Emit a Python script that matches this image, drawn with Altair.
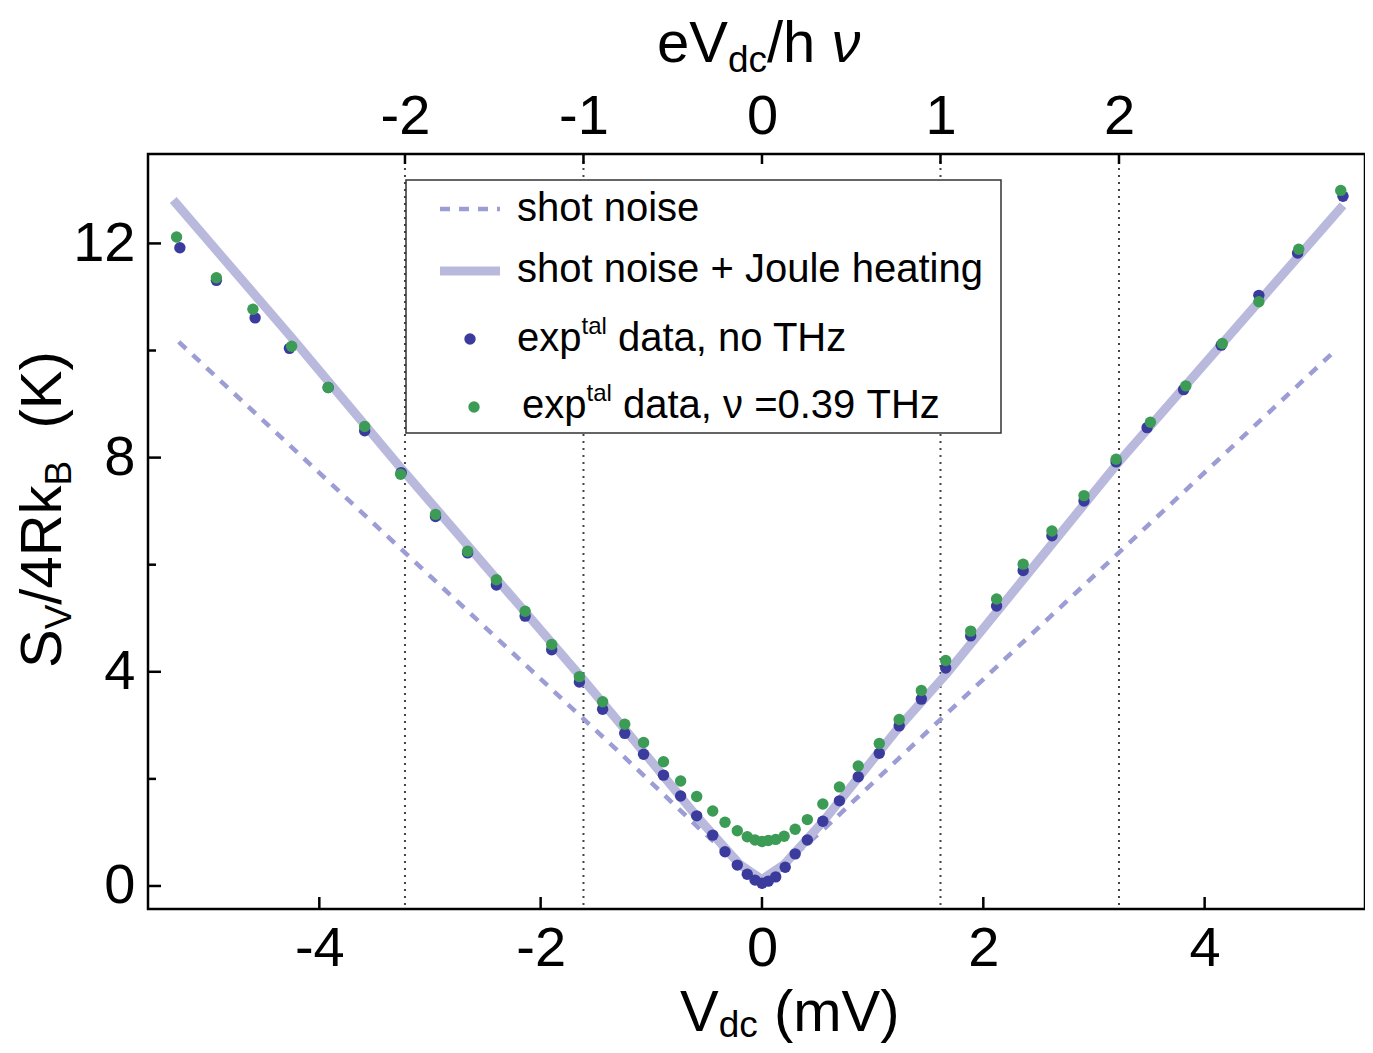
import altair as alt
import pandas as pd

# ---------------- data ----------------
HNU = 1.613  # mV corresponding to eV_dc/hν = 1 at ν = 0.39 THz

v_blue = [-5.26, -4.93, -4.58, -4.27, -3.92, -3.59, -3.26, -2.95, -2.66, -2.40,
          -2.14, -1.90, -1.65, -1.44, -1.24, -1.07, -0.89, -0.735, -0.59, -0.445,
          -0.334, -0.223, -0.133, -0.063, 0.0, 0.057, 0.124, 0.21, 0.30, 0.41,
          0.55, 0.70, 0.87, 1.06, 1.24, 1.44, 1.66, 1.886, 2.12, 2.36,
          2.62, 2.91, 3.20, 3.48, 3.81, 4.15, 4.49, 4.84, 5.25]
s_blue = [11.92, 11.31, 10.61, 10.04, 9.31, 8.50, 7.72, 6.90, 6.22, 5.62,
          5.04, 4.41, 3.81, 3.30, 2.85, 2.46, 2.07, 1.68, 1.31, 0.95,
          0.64, 0.39, 0.22, 0.11, 0.05, 0.09, 0.17, 0.35, 0.60, 0.86,
          1.21, 1.59, 2.04, 2.48, 2.99, 3.49, 4.07, 4.67, 5.23, 5.89,
          6.54, 7.19, 7.92, 8.56, 9.27, 10.10, 11.03, 11.82, 12.88]

v_green = [-5.29, -4.93, -4.60, -4.25, -3.92, -3.59, -3.265, -2.95, -2.66, -2.40,
           -2.14, -1.90, -1.65, -1.44, -1.24, -1.07, -0.89, -0.735, -0.59, -0.445,
           -0.334, -0.223, -0.133, -0.063, 0.0, 0.057, 0.124, 0.20, 0.30, 0.41,
           0.55, 0.70, 0.87, 1.06, 1.24, 1.44, 1.66, 1.886, 2.12, 2.36,
           2.62, 2.91, 3.20, 3.51, 3.83, 4.16, 4.49, 4.85, 5.23]
s_green = [12.12, 11.36, 10.77, 10.08, 9.31, 8.58, 7.69, 6.94, 6.25, 5.72,
           5.13, 4.51, 3.91, 3.44, 3.02, 2.68, 2.32, 1.96, 1.67, 1.40,
           1.19, 1.03, 0.92, 0.86, 0.83, 0.85, 0.87, 0.93, 1.06, 1.24,
           1.53, 1.85, 2.24, 2.66, 3.11, 3.65, 4.21, 4.76, 5.36, 6.01,
           6.63, 7.29, 7.97, 8.66, 9.34, 10.13, 10.91, 11.89, 12.99]

v_shot = [-5.27, -2.60, -1.28, -0.56, -0.20, 0.0, 0.20, 0.60, 1.23, 2.60, 5.19]
s_shot = [10.16, 5.02, 2.48, 1.06, 0.40, 0.12, 0.40, 1.14, 2.37, 5.02, 10.02]

v_joule = [-5.32, -4.25, -3.26, -1.65, -1.24, -0.59, -0.20, 0.0, 0.20, 0.55, 1.24, 1.67, 3.20, 5.25]
s_joule = [12.81, 10.24, 7.80, 3.94, 2.93, 1.30, 0.40, 0.12, 0.40, 1.20, 2.97, 3.97, 7.86, 12.71]

x_ticks = [-4, -2, 0, 2, 4]
y_major = [0, 4, 8, 12]
y_minor = [2, 6, 10]
top_ticks = [-2, -1, 0, 1, 2]
top_dotted = [-2, -1, 1, 2]

legend_labels = ["shot noise", "shot noise + Joule heating", "data, no THz", "data, ν =0.39 THz"]

# ---------------- layout / style ----------------
X_DOMAIN = [-5.548, 5.449]
Y_DOMAIN = [-0.43, 13.67]
W, H = 1217, 755
FONT = "Liberation Sans"
FS_TICK = 56
FS_TITLE = 58
FS_SUB = 37
FS_LEG = 40
FS_SUP = 24
DOT = 130

BLUE = "#3b3b9e"
GREEN = "#3c9b55"
JOULE = "#b9b9dd"
SHOT = "#9d9dd6"

xs = alt.Scale(domain=X_DOMAIN, nice=False, zero=False)
ys = alt.Scale(domain=Y_DOMAIN, nice=False, zero=False)
xt = alt.Scale(domain=[d / HNU for d in X_DOMAIN], nice=False, zero=False)

common_axis = dict(ticks=False, domain=False, grid=False, title=None,
                   labelFont=FONT, labelFontSize=FS_TICK, labelColor="black",
                   labelOverlap=False, labelBound=False, labelFlush=False,
                   labelExpr="'' + datum.value")
xaxis = alt.Axis(orient="bottom", values=x_ticks, labelPadding=12, **common_axis)
yaxis = alt.Axis(orient="left", values=y_major, labelPadding=13, **common_axis)
taxis = alt.Axis(orient="top", values=top_ticks, labelPadding=9, **common_axis)

df_blue = pd.DataFrame({"V": v_blue, "S": s_blue})
df_green = pd.DataFrame({"V": v_green, "S": s_green})
df_shot = pd.DataFrame({"V": v_shot, "S": s_shot})
df_joule = pd.DataFrame({"V": v_joule, "S": s_joule})

X = alt.X("V:Q", scale=xs, axis=xaxis)
Y = alt.Y("S:Q", scale=ys, axis=yaxis)

shot = alt.Chart(df_shot).mark_line(color=SHOT, strokeWidth=4.5, strokeDash=[10, 9]).encode(x=X, y=Y)
joule = alt.Chart(df_joule).mark_line(color=JOULE, strokeWidth=9).encode(x=X, y=Y)
blue = alt.Chart(df_blue).mark_circle(size=DOT, color=BLUE, opacity=1).encode(x=X, y=Y)
green = alt.Chart(df_green).mark_circle(size=DOT, color=GREEN, opacity=1).encode(x=X, y=Y)

bx_ticks = alt.Chart(pd.DataFrame({"V": x_ticks})).mark_rule(color="black", strokeWidth=2.5).encode(
    x=X, y=alt.value(H), y2=alt.value(H - 12))
ymaj = alt.Chart(pd.DataFrame({"S": y_major})).mark_rule(color="black", strokeWidth=2.5).encode(
    y=Y, x=alt.value(0), x2=alt.value(13))
ymin = alt.Chart(pd.DataFrame({"S": y_minor})).mark_rule(color="black", strokeWidth=2.5).encode(
    y=Y, x=alt.value(0), x2=alt.value(8))

main = alt.layer(shot, joule, blue, green, bx_ticks, ymaj, ymin)

XT = alt.X("E:Q", scale=xt, axis=taxis)
dotted = alt.Chart(pd.DataFrame({"E": top_dotted})).mark_rule(
    color="#444444", strokeWidth=2, strokeDash=[2, 5]).encode(x=XT)
tticks = alt.Chart(pd.DataFrame({"E": top_ticks})).mark_rule(color="black", strokeWidth=2.5).encode(
    x=XT, y=alt.value(0), y2=alt.value(10))
top = alt.layer(dotted, tticks)

one = pd.DataFrame({"d": [0]})


def txt(text, x, y, size, **kw):
    params = dict(text=text, font=FONT, fontSize=size, align="left", baseline="alphabetic", color="black")
    params.update(kw)
    return alt.Chart(one).mark_text(**params).encode(x=alt.value(x), y=alt.value(y))


# legend
box = alt.Chart(one).mark_rect(fill="white", stroke="#333333", strokeWidth=1.5).encode(
    x=alt.value(258), x2=alt.value(853), y=alt.value(26), y2=alt.value(279))
leg_shot = alt.Chart(one).mark_rule(color=SHOT, strokeWidth=4.5, strokeDash=[10, 9]).encode(
    x=alt.value(292), x2=alt.value(352), y=alt.value(55))
leg_joule = alt.Chart(one).mark_rule(color=JOULE, strokeWidth=9).encode(
    x=alt.value(292), x2=alt.value(352), y=alt.value(117))
leg_blue = alt.Chart(one).mark_circle(size=DOT, color=BLUE, opacity=1).encode(x=alt.value(322), y=alt.value(185))
leg_green = alt.Chart(one).mark_circle(size=DOT, color=GREEN, opacity=1).encode(x=alt.value(326), y=alt.value(253))

exp_w = 1.612 * FS_LEG
sup_w = 1.056 * FS_SUP
sp_w = 0.278 * FS_LEG

legend_parts = [
    box, leg_shot, leg_joule, leg_blue, leg_green,
    txt(legend_labels[0], 369, 67, FS_LEG),
    txt(legend_labels[1], 369, 128, FS_LEG),
    txt("exp", 369, 197, FS_LEG),
    txt("tal", 369 + exp_w, 180, FS_SUP),
    txt(legend_labels[2], 369 + exp_w + sup_w + sp_w, 197, FS_LEG),
    txt("exp", 374, 264, FS_LEG),
    txt("tal", 374 + exp_w, 247, FS_SUP),
    txt(legend_labels[3], 374 + exp_w + sup_w + sp_w, 264, FS_LEG),
]

# axis titles composed from pieces (subscripts)
F = FS_TITLE
# top: eV_dc/h ν
tx0, ty0 = 509, -92
top_title = [
    txt("eV", tx0, ty0, F),
    txt("dc", tx0 + 1.223 * F, ty0 + 10, FS_SUB),
    txt("/h", tx0 + 1.223 * F + 1.056 * FS_SUB, ty0, F),
    txt("ν", tx0 + 1.223 * F + 1.056 * FS_SUB + (0.834 + 0.278) * F, ty0, F, fontStyle="italic"),
]
# bottom: V_dc (mV)
bx0, by0 = 532, 877
bottom_title = [
    txt("V", bx0, by0, F),
    txt("dc", bx0 + 0.667 * F, by0 + 6, FS_SUB),
    txt("(mV)", bx0 + 0.667 * F + 1.056 * FS_SUB + 0.278 * F, by0, F),
]
# left: S_V/4Rk_B  (K)  (rotated)
lx0, ly0 = -87, 514
d1 = 0.667 * F
d2 = d1 + 0.667 * FS_SUB
d3 = d2 + 2.056 * F
d4 = d3 + 0.667 * FS_SUB + 2 * 0.278 * F
left_title = [
    txt("S", lx0, ly0, F, angle=270),
    txt("V", lx0, ly0, FS_SUB, angle=270, dx=d1, dy=10),
    txt("/4Rk", lx0, ly0, F, angle=270, dx=d2),
    txt("B", lx0, ly0, FS_SUB, angle=270, dx=d3, dy=10),
    txt("(K)", lx0, ly0, F, angle=270, dx=d4),
]

overlay = alt.layer(*(legend_parts + top_title + bottom_title + left_title))

chart = alt.layer(top, main, overlay).resolve_scale(x="independent").properties(
    width=W, height=H,
    padding={"left": 140, "top": 146, "right": 0, "bottom": 136},
    autosize=alt.AutoSizeParams(type="none"),
    background="white",
).configure_view(stroke="black", strokeWidth=2.5)

chart.save("out.html", embed_options={"renderer": "svg", "actions": False})
